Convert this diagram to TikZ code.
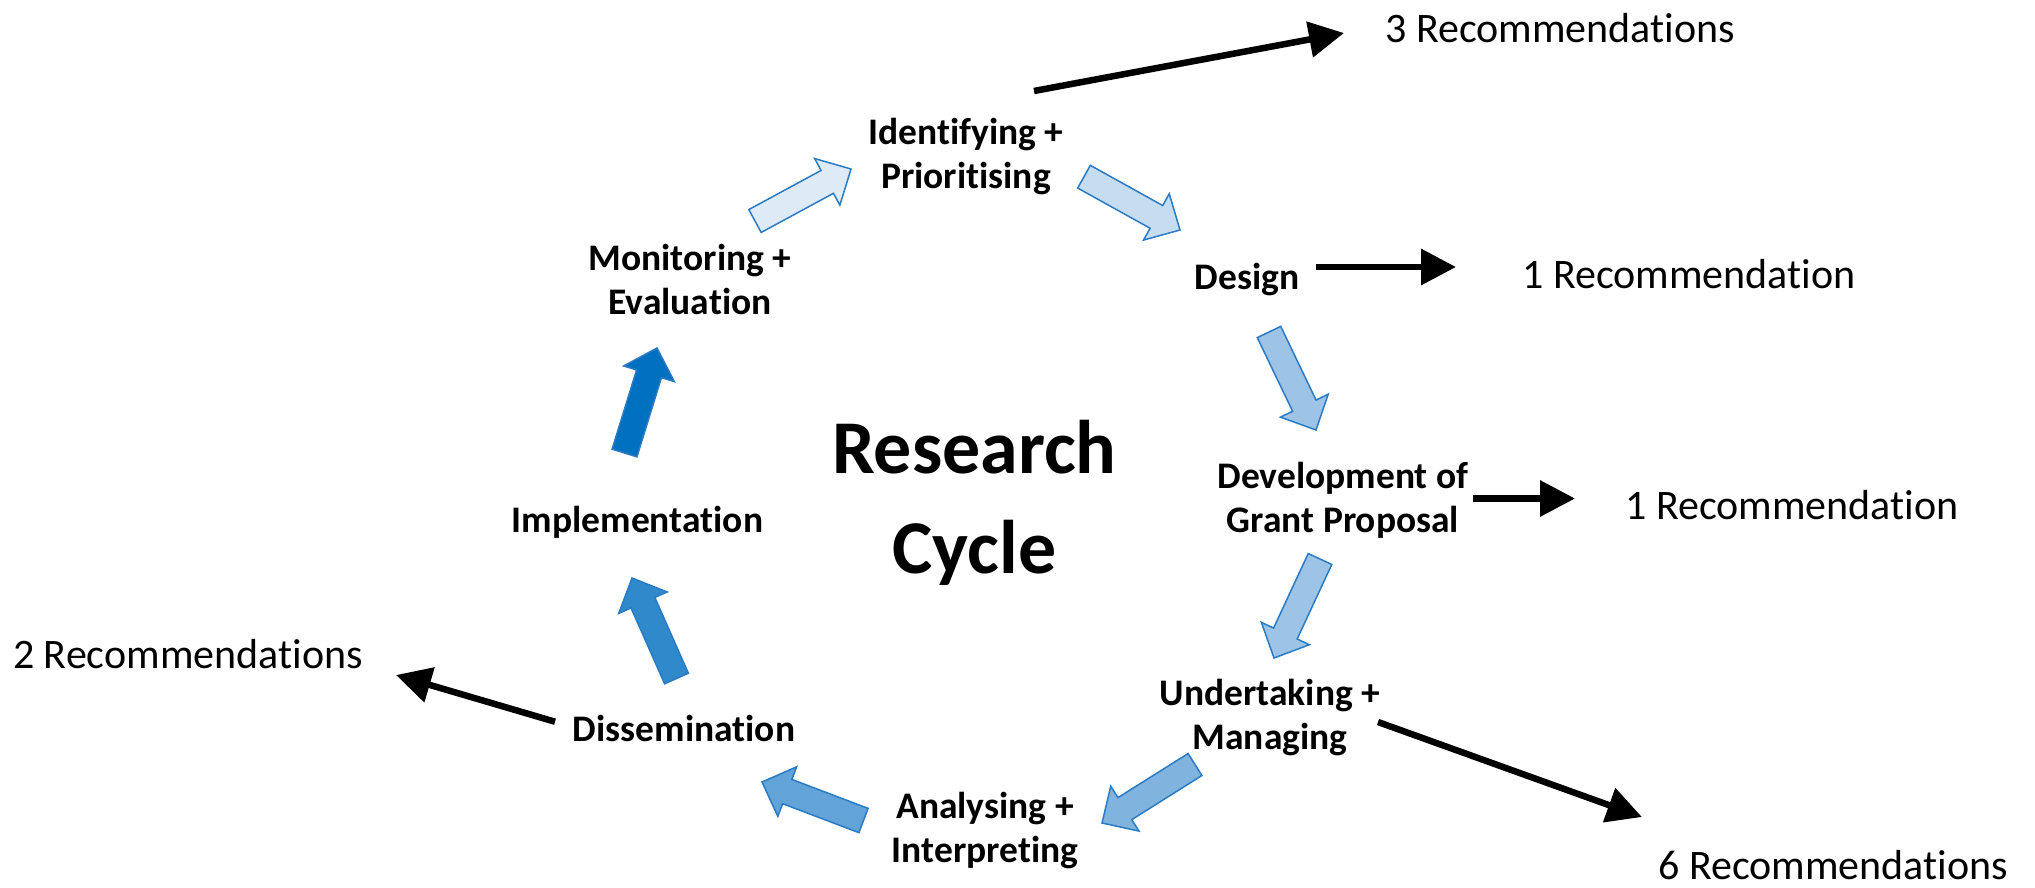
\documentclass[tikz,border=0pt]{standalone}
\usepackage{fontspec}
\setmainfont{Carlito}[Ligatures={NoCommon,NoContextual}]
\usetikzlibrary{calc,arrows.meta}

% fills of the cycle arrows, light to dark
\definecolor{shadeA}{HTML}{DEEBF7}
\definecolor{shadeB}{HTML}{C6DDF1}
\definecolor{shadeC}{HTML}{9DC3E6}
\definecolor{shadeD}{HTML}{80B3DE}
\definecolor{shadeE}{HTML}{62A3D8}
\definecolor{shadeF}{HTML}{2F89CB}
\definecolor{shadeG}{HTML}{0070C0}
\definecolor{arrowedge}{HTML}{2A7BC4}

\tikzset{
  stage/.style={font=\fontsize{37.5}{44}\selectfont\bfseries, align=center, inner sep=0pt},
  title/.style={font=\fontsize{76}{100}\selectfont\bfseries, align=center, inner sep=0pt},
  rec/.style={font=\fontsize{42}{50}\selectfont, inner sep=0pt},
  blockarrow/.style={draw=arrowedge, line width=1.5pt, line join=miter},
  outarrow/.style={line width=6.5pt, -{Triangle[length=35pt 0 0, width=35pt 0 0]}},
}

% wide arrow from tail centre #1 to tip #2, filled with #3
\newcommand\blockarrow[3]{%
  \coordinate (neck) at ($(#2)!27pt!(#1)$);
  \filldraw[blockarrow, fill=#3]
    ($(#1)!13pt!90:(#2)$) -- ($(neck)!13pt!90:(#2)$) -- ($(neck)!26.5pt!90:(#2)$) -- (#2)
    -- ($(neck)!26.5pt!-90:(#2)$) -- ($(neck)!13pt!-90:(#2)$) -- ($(#1)!13pt!-90:(#2)$) -- cycle;
}

\begin{document}
\begin{tikzpicture}[x=1pt, y=-1pt]
\useasboundingbox (0,0) rectangle (2035,887);

% stages of the cycle
\node[stage] (idp) at (966,157) {Identifying +\\Prioritising};
\node[stage, anchor=base] (des) at (1247,289) {Design};
\node[stage] (dev) at (1343,500) {Development of\\Grant Proposal};
\node[stage] (und) at (1270,718) {Undertaking +\\Managing};
\node[stage] (ana) at (985,831) {Analysing +\\Interpreting};
\node[stage, anchor=base] (dis) at (684,741.7) {Dissemination};
\node[stage, anchor=base] (imp) at (637.5,532.7) {Implementation};
\node[stage] (mon) at (690,279.5) {Monitoring +\\Evaluation};

\node[title] (rc) at (974.5,503) {Research\\Cycle};

% outcomes
\node[rec, anchor=base west] (r3) at (1385,42.7) {3 Recommendations};
\node[rec, anchor=base west] (r1a) at (1522,288) {1 Recommendation};
\node[rec, anchor=base west] (r1b) at (1625,519) {1 Recommendation};
\node[rec, anchor=base west] (r6) at (1658,879) {6 Recommendations};
\node[rec, anchor=base west] (r2) at (13,668) {2 Recommendations};

% cycle arrows: tail and tip points
\coordinate (t1) at (755,221);    \coordinate (h1) at (851,169);
\coordinate (t2) at (1084,176.7); \coordinate (h2) at (1180,230);
\coordinate (t3) at (1269,332);   \coordinate (h3) at (1316,430);
\coordinate (t4) at (1320,559);   \coordinate (h4) at (1274,658);
\coordinate (t5) at (1195,764.5); \coordinate (h5) at (1102,823);
\coordinate (t6) at (863.5,820.5);\coordinate (h6) at (762,782);
\coordinate (t7) at (676.5,678.5);\coordinate (h7) at (632,578);
\coordinate (t8) at (624.5,453);  \coordinate (h8) at (657,348);

\blockarrow{t1}{h1}{shadeA}
\blockarrow{t2}{h2}{shadeB}
\blockarrow{t3}{h3}{shadeC}
\blockarrow{t4}{h4}{shadeC}
\blockarrow{t5}{h5}{shadeD}
\blockarrow{t6}{h6}{shadeE}
\blockarrow{t7}{h7}{shadeF}
\blockarrow{t8}{h8}{shadeG}

% arrows to the recommendations
\coordinate (o3s) at (1034,91);    \coordinate (o3e) at (1344,33);
\coordinate (o1as) at (1316,267);  \coordinate (o1ae) at (1456,267);
\coordinate (o1bs) at (1473,498.5);\coordinate (o1be) at (1575,498.5);
\coordinate (o6s) at (1378,722);   \coordinate (o6e) at (1642,817);
\coordinate (o2s) at (555,721.7);  \coordinate (o2e) at (396,675);

\draw[outarrow] (o3s) -- (o3e);
\draw[outarrow] (o1as) -- (o1ae);
\draw[outarrow] (o1bs) -- (o1be);
\draw[outarrow] (o6s) -- (o6e);
\draw[outarrow] (o2s) -- (o2e);
\end{tikzpicture}
\end{document}
